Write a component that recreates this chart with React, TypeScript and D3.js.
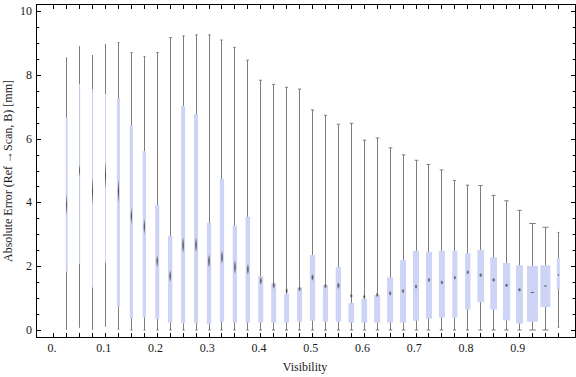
import React from "react";
import * as d3 from "d3";

// ---- data ----
const visibility = [
  0.025, 0.05, 0.075, 0.1, 0.125, 0.15, 0.175, 0.2, 0.225, 0.25,
  0.275, 0.3, 0.325, 0.35, 0.375, 0.4, 0.425, 0.45, 0.475, 0.5,
  0.525, 0.55, 0.575, 0.6, 0.625, 0.65, 0.675, 0.7, 0.725, 0.75,
  0.775, 0.8, 0.825, 0.85, 0.875, 0.9, 0.925, 0.95, 0.975,
];
const whiskerLow = [
  0, 0.07, 0, 0.1, 0.03, 0, 0, 0, 0, 0,
  0, 0, 0, 0, 0, 0, 0, 0, 0, 0,
  0, 0, 0, 0, 0, 0, 0, 0, 0, 0,
  0, 0, 0, 0, 0, 0, 0, 0, 0.09,
];
const q1 = [
  1.83, 2.07, 1.33, 2.11, 0.73, 0.37, 0.4, 0.34, 0.23, 0.21,
  0.21, 0.19, 0.26, 0.23, 0.23, 0.23, 0.23, 0.23, 0.26, 0.29,
  0.26, 0.26, 0.23, 0.23, 0.23, 0.23, 0.23, 0.29, 0.35, 0.39,
  0.39, 0.64, 0.87, 0.64, 0.3, 0.2, 0.26, 0.72, 1.28,
];
const mean = [
  3.92, 5.0, 4.35, 4.85, 4.35, 3.57, 3.24, 2.16, 1.69, 2.66,
  2.67, 2.16, 2.28, 1.97, 1.9, 1.54, 1.4, 1.23, 1.29, 1.65,
  1.38, 1.39, 1.07, 1.04, 1.1, 1.15, 1.22, 1.36, 1.57, 1.49,
  1.64, 1.81, 1.72, 1.57, 1.4, 1.26, 1.18, 1.38, 1.73,
];
const q3 = [
  6.67, 7.71, 7.55, 7.4, 7.26, 6.42, 5.61, 3.92, 2.95, 7.02,
  6.77, 3.36, 4.73, 3.27, 3.55, 1.69, 1.47, 1.13, 1.33, 2.35,
  1.41, 1.97, 0.85, 0.97, 1.1, 1.65, 2.19, 2.48, 2.45, 2.48,
  2.48, 2.41, 2.51, 2.28, 2.1, 2.03, 2.01, 2.03, 2.26,
];
const whiskerHigh = [
  8.55, 8.9, 8.62, 8.97, 9.01, 8.7, 8.57, 8.7, 9.17, 9.22,
  9.25, 9.25, 9.09, 8.86, 8.46, 7.83, 7.7, 7.61, 7.55, 6.9,
  6.73, 6.45, 6.48, 5.95, 6.02, 5.71, 5.49, 5.32, 5.19, 5.02,
  4.69, 4.54, 4.53, 4.22, 4.05, 3.75, 3.34, 3.22, 3.06,
];
const sampleCount = [
  20, 10, 10, 10, 30, 33, 33, 40, 43, 40,
  40, 43, 43, 43, 45, 50, 50, 50, 50, 53,
  50, 53, 57, 57, 60, 60, 60, 60, 60, 60,
  50, 53, 67, 67, 73, 70, 110, 100, 30,
];
const meanSpread = [
  0.72, 0.41, 0.94, 0.94, 0.78, 0.56, 0.53, 0.41, 0.41, 0.56,
  0.53, 0.47, 0.47, 0.47, 0.38, 0.28, 0.25, 0.22, 0.19, 0.25,
  0.19, 0.25, 0.16, 0.16, 0.16, 0.17, 0.16, 0.16, 0.16, 0.15,
  0.15, 0.15, 0.15, 0.14, 0.13, 0.14, 0.05, 0.05, 0.09,
];
const xTickValues = [0, 0.1, 0.2, 0.3, 0.4, 0.5, 0.6, 0.7, 0.8, 0.9];
const xTickLabels = ["0.", "0.1", "0.2", "0.3", "0.4", "0.5", "0.6", "0.7", "0.8", "0.9"];
const yTickValues = [0, 2, 4, 6, 8, 10];
const yTickLabels = ["0", "2", "4", "6", "8", "10"];

const W = 576;
const H = 377;
const FL = 36.5, FR = 575.5, FT = 4.5, FB = 337.5;
const FONT = "'Liberation Serif', 'Times New Roman', serif";

export default function App() {
  const x = d3.scaleLinear().domain([0, 1]).range([53.76, 571.26]);
  const y = d3.scaleLinear().domain([0, 10]).range([330, 11]);
  const wScale = d3.scaleLinear().domain([0, 110]).range([0, 11]);

  const minorX = d3.range(0, 0.99, 0.025);
  const minorY = d3.range(0, 10.01, 0.5);

  const whiskerColor = "#7d7d7d";
  const boxColor = "#cdd4f5";

  return (
    <svg width={W} height={H} style={{ position: "absolute", left: 0, top: 0 }}>
      <defs>
        <radialGradient id="meanGrad" cx="50%" cy="50%" r="50%">
          <stop offset="0%" stopColor="#3e3e3e" stopOpacity={0.95} />
          <stop offset="55%" stopColor="#5a5a5a" stopOpacity={0.6} />
          <stop offset="100%" stopColor="#8a8a8a" stopOpacity={0} />
        </radialGradient>
      </defs>
      <rect x={0} y={0} width={W} height={H} fill="#fff" />

      {/* boxes & whiskers */}
      {visibility.map((v, i) => {
        const cx = x(v);
        const lx = Math.floor(cx) + 0.5;
        const bw = wScale(sampleCount[i]);
        const capW = bw * 0.6;
        const mW = 0.4 * bw + 1;
        const mH = Math.max(2, y(0) - y(meanSpread[i]));
        return (
          <g key={i}>
            <line x1={lx} x2={lx} y1={y(whiskerHigh[i])} y2={y(whiskerLow[i])} stroke={whiskerColor} strokeWidth={1} />
            {capW >= 1.5 && (
              <>
                <line x1={lx - capW / 2} x2={lx + capW / 2} y1={y(whiskerHigh[i])} y2={y(whiskerHigh[i])} stroke={whiskerColor} strokeWidth={1} />
                <line x1={lx - capW / 2} x2={lx + capW / 2} y1={y(whiskerLow[i])} y2={y(whiskerLow[i])} stroke={whiskerColor} strokeWidth={1} />
              </>
            )}
            <rect x={cx - bw / 2} y={y(q3[i])} width={bw} height={y(q1[i]) - y(q3[i])} fill={boxColor} />
            <ellipse cx={cx} cy={y(mean[i])} rx={mW / 2} ry={mH / 2} fill="url(#meanGrad)" />
          </g>
        );
      })}

      {/* frame */}
      <rect x={FL} y={FT} width={FR - FL} height={FB - FT} fill="none" stroke="#000" strokeWidth={1} />

      {/* x ticks */}
      {minorX.map((v, i) => {
        const tx = Math.floor(x(v)) + 0.5;
        return (
          <g key={"xt" + i}>
            <line x1={tx} x2={tx} y1={FB} y2={FB - 4.5} stroke="#000" />
            <line x1={tx} x2={tx} y1={FT} y2={FT + 4.5} stroke="#000" />
          </g>
        );
      })}
      {/* y ticks */}
      {minorY.map((v, i) => {
        const major = Math.abs(v / 2 - Math.round(v / 2)) < 1e-6;
        const len = major ? 4.5 : 2.8;
        const ty = Math.round(y(v)) + 0.5;
        return (
          <g key={"yt" + i}>
            <line x1={FL} x2={FL + len} y1={ty} y2={ty} stroke="#000" />
            <line x1={FR} x2={FR - len} y1={ty} y2={ty} stroke="#000" />
          </g>
        );
      })}

      {/* tick labels */}
      {xTickValues.map((v, i) => (
        <text key={"xl" + i} x={x(v) - 1.8} y={351.5} textAnchor="middle" fontFamily={FONT} fontSize={12} fill="#1a1a1a">
          {xTickLabels[i]}
        </text>
      ))}
      {yTickValues.map((v, i) => (
        <text key={"yl" + i} x={32} y={y(v) + 4} textAnchor="end" fontFamily={FONT} fontSize={12} fill="#1a1a1a">
          {yTickLabels[i]}
        </text>
      ))}

      {/* axis titles */}
      <text x={305} y={371} textAnchor="middle" fontFamily={FONT} fontSize={12} fill="#1a1a1a">
        Visibility
      </text>
      <text
        transform={`translate(12, ${(FT + FB) / 2}) rotate(-90)`}
        textAnchor="middle"
        fontFamily={FONT}
        fontSize={12}
        fill="#1a1a1a"
      >
        Absolute Error (Ref →Scan, B) [mm]
      </text>
    </svg>
  );
}
